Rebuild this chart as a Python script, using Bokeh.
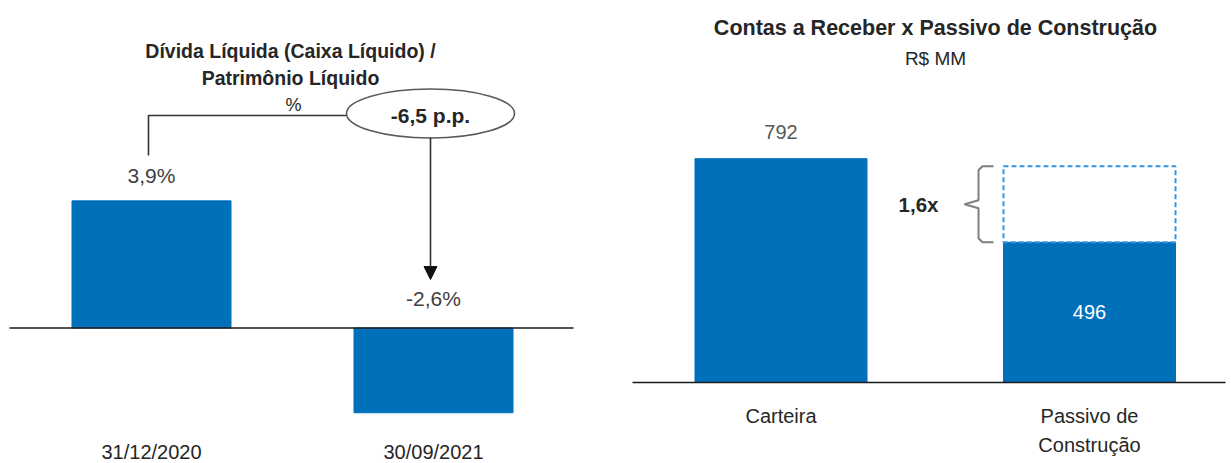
from bokeh.plotting import figure
from bokeh.layouts import row
from bokeh.models import Range1d, Arrow, NormalHead
from bokeh.core.properties import value
from bokeh.embed import file_html
from bokeh.resources import INLINE

# ---------------- data ----------------
left_categories = ["31/12/2020", "30/09/2021"]
left_values = [3.9, -2.6]
left_value_labels = ["3,9%", "-2,6%"]
left_change_label = "-6,5 p.p."
left_title = ["Dívida Líquida (Caixa Líquido) /", "Patrimônio Líquido"]
left_unit = "%"

right_categories = ["Carteira", "Passivo de\nConstrução"]
right_values = [792, 496]
right_value_labels = ["792", "496"]
right_dashed_top = 765
right_ratio_label = "1,6x"
right_title = "Contas a Receber x Passivo de Construção"
right_unit = "R$ MM"

# ---------------- style ----------------
BLUE = "#0070BA"
DASH_BLUE = "#3A92D8"
FONT = value("Liberation Sans")
TXT = "#262626"
VAL = "#404040"
H = 463


def base_fig(w, xr, yr):
    p = figure(width=w, height=H, x_range=xr, y_range=yr, output_backend="svg",
               toolbar_location=None, x_axis_location=None, y_axis_location=None,
               min_border=0)
    p.grid.visible = False
    p.outline_line_color = None
    p.background_fill_color = "white"
    p.border_fill_color = "white"
    return p


# ================= left panel =================
W1 = 620
CAT1 = 282.0      # px between categories
X01 = 151.0       # px of first category
PPU1 = 32.6       # px per percentage point
BASE1 = 327.5     # px of zero line (from top)


def lx(px):
    return (px - X01) / CAT1


def ly(py):
    return (BASE1 - py) / PPU1


p1 = base_fig(W1, Range1d(lx(0), lx(W1)), Range1d(ly(H), ly(0)))
xs1 = list(range(len(left_categories)))
p1.vbar(x=xs1, top=left_values, width=159 / CAT1, fill_color=BLUE, line_color=BLUE)
p1.segment(x0=lx(9), y0=0, x1=lx(573), y1=0, line_color="#1a1a1a", line_width=1.6)

lab_y1 = [v + 25 / PPU1 if v >= 0 else 30 / PPU1 for v in left_values]
p1.text(x=xs1, y=lab_y1, text=left_value_labels, text_font=FONT, text_font_size="21px",
        text_color=VAL, text_align="center", text_baseline="middle")
p1.text(x=xs1, y=[ly(451)] * len(xs1), text=left_categories, text_font=FONT,
        text_font_size="20px", text_color=TXT, text_align="center", text_baseline="middle")

# titles
p1.text(x=[lx(290)] * 2, y=[ly(50), ly(77)], text=left_title, text_font=FONT,
        text_font_size="19.5px", text_font_style="bold", text_color=TXT,
        text_align="center", text_baseline="middle")
p1.text(x=[lx(293)], y=[ly(104)], text=[left_unit], text_font=FONT,
        text_font_size="18px", text_color=TXT, text_align="center", text_baseline="middle")

# connector + ellipse + arrow
ex = lx(430)
p1.line(x=[lx(148), lx(148), lx(346)], y=[ly(155), ly(115), ly(115)],
        line_color="#333333", line_width=1.6)
p1.ellipse(x=[ex], y=[ly(113)], width=168, height=49, width_units="screen",
           height_units="screen", fill_color="white", line_color="#595959", line_width=1.6)
p1.text(x=[ex], y=[ly(115)], text=[left_change_label], text_font=FONT,
        text_font_size="21px", text_font_style="bold", text_color=TXT,
        text_align="center", text_baseline="middle")
p1.add_layout(Arrow(x_start=ex, y_start=ly(137), x_end=ex, y_end=ly(279),
                    line_color="#333333", line_width=1.6,
                    end=NormalHead(size=13, fill_color="#111111", line_color="#111111")))

# ================= right panel =================
W2 = 611
OFF2 = 620        # left edge of the right panel
CAT2 = 308.5
X02 = 780.5
PPU2 = 0.2826
BASE2 = 382.0


def rx(px):
    return (px - X02) / CAT2


def ry(py):
    return (BASE2 - py) / PPU2


p2 = base_fig(W2, Range1d(rx(OFF2), rx(OFF2 + W2)), Range1d(ry(H), ry(0)))
xs2 = list(range(len(right_categories)))
bw2 = 172 / CAT2
p2.vbar(x=xs2, top=right_values, width=bw2, fill_color=BLUE, line_color=BLUE)
p2.quad(left=[1 - bw2 / 2], right=[1 + bw2 / 2], bottom=[right_values[1]], top=[right_dashed_top],
        fill_color=None, line_color=DASH_BLUE, line_width=2, line_dash="5 3")
p2.segment(x0=rx(632), y0=0, x1=rx(1225), y1=0, line_color="#1a1a1a", line_width=1.6)

p2.text(x=[0], y=[right_values[0] + 27 / PPU2], text=[right_value_labels[0]], text_font=FONT,
        text_font_size="20px", text_color="#595959", text_align="center", text_baseline="middle")
p2.text(x=[1], y=[right_values[1] / 2], text=[right_value_labels[1]], text_font=FONT,
        text_font_size="20px", text_color="white", text_align="center", text_baseline="middle")

ymid = (right_values[1] + right_dashed_top) / 2
p2.text(x=[rx(918)], y=[ymid], text=[right_ratio_label], text_font=FONT,
        text_font_size="20.5px", text_font_style="bold", text_color=TXT,
        text_align="center", text_baseline="middle")

# brace
xr_, xv_, xt_ = rx(993), rx(978), rx(964)
d = 4 / PPU2
dx = 4 / CAT2
brace_x = [xr_, xv_ + dx, xv_, xv_, xt_, xv_, xv_, xv_ + dx, xr_]
brace_y = [right_dashed_top, right_dashed_top, right_dashed_top - d, ymid + d, ymid,
           ymid - d, right_values[1] + d, right_values[1], right_values[1]]
p2.line(x=brace_x, y=brace_y, line_color="#7F7F7F", line_width=2)

p2.text(x=xs2, y=[ry(404)] * len(xs2), text=right_categories, text_font=FONT,
        text_font_size="20px", text_color=TXT, text_align="center", text_baseline="top",
        text_line_height=1.35)

p2.text(x=[rx(935)], y=[ry(27)], text=[right_title], text_font=FONT,
        text_font_size="21.5px", text_font_style="bold", text_color=TXT,
        text_align="center", text_baseline="middle")
p2.text(x=[rx(935)], y=[ry(58)], text=[right_unit], text_font=FONT,
        text_font_size="19px", text_color=TXT, text_align="center", text_baseline="middle")

layout = row(p1, p2)
open("out.html", "w").write(file_html(layout, INLINE))
